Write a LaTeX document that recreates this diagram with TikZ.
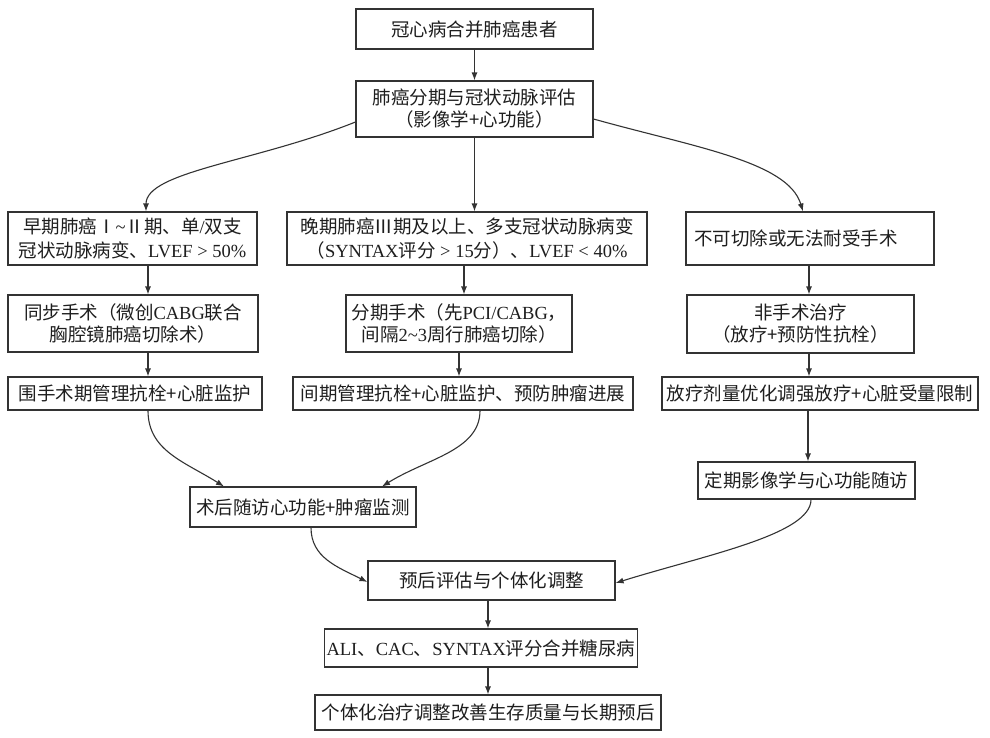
\documentclass[tikz,border=0pt]{standalone}
\usepackage{fontspec}
\setmainfont{Noto Sans CJK SC}
\newfontfamily\en{Liberation Serif}
\usetikzlibrary{arrows.meta}
\definecolor{ln}{HTML}{333333}
\definecolor{tx}{HTML}{1E1E1E}
\begin{document}
\begin{tikzpicture}[x=1pt,y=-1pt,
  box/.style={draw=ln, line width=1.1pt, text=tx, align=center, inner sep=2pt,
    font=\fontsize{18.5}{22}\selectfont},
  arr/.style={draw=ln, line width=1.1pt, -{Latex[length=8pt,width=6pt]}}]
\path[use as bounding box, fill=white] (0,0) rectangle (990,737);

\node[box, minimum width=237pt, minimum height=40pt] (b1) at (474.5,29) {冠心病合并肺癌患者};
\node[box, minimum width=237pt, minimum height=56pt] (b2) at (474.5,109) {肺癌分期与冠状动脉评估\\（影像学+心功能）};

\node[box, minimum width=249pt, minimum height=53pt, font=\fontsize{18.5}{24}\selectfont] (L1) at (132.5,238.5) {早期肺癌Ⅰ{\en\textasciitilde}Ⅱ期、单{\en/}双支\\冠状动脉病变、{\en LVEF > 50\%}};
\node[box, minimum width=360pt, minimum height=53pt, font=\fontsize{18.5}{24}\selectfont] (M1) at (467,238.5) {晚期肺癌Ⅲ期及以上、多支冠状动脉病变\\（{\en SYNTAX}评分{\en\ > 15}分）、{\en LVEF < 40\%}};
\node[box, minimum width=248pt, minimum height=53pt, text width=232pt, align=left, inner xsep=8pt] (R1) at (810,238.5) {不可切除或无法耐受手术};

\node[box, minimum width=250pt, minimum height=57pt] (L2) at (133,323.5) {同步手术（微创{\en CABG}联合\\胸腔镜肺癌切除术）};
\node[box, minimum width=226pt, minimum height=57pt] (M2) at (459,323.5) {分期手术（先{\en PCI/CABG}，\\间隔{\en 2\textasciitilde 3}周行肺癌切除）};
\node[box, minimum width=227pt, minimum height=58pt] (R2) at (800.5,324) {非手术治疗\\（放疗+预防性抗栓）};

\node[box, minimum width=254pt, minimum height=33pt] (L3) at (135,393.5) {围手术期管理抗栓+心脏监护};
\node[box, minimum width=340pt, minimum height=33pt] (M3) at (463,393.5) {间期管理抗栓+心脏监护、预防肿瘤进展};
\node[box, minimum width=316pt, minimum height=33pt] (R3) at (820,393.5) {放疗剂量优化调强放疗+心脏受量限制};

\node[box, minimum width=226pt, minimum height=40pt] (S) at (303,507) {术后随访心功能+肿瘤监测};
\node[box, minimum width=217pt, minimum height=37pt] (D) at (806.5,480.5) {定期影像学与心功能随访};
\node[box, minimum width=247pt, minimum height=39pt] (P) at (491.5,580.5) {预后评估与个体化调整};
\node[box, minimum width=306pt, minimum height=38pt] (A) at (481,648) {{\en ALI}、{\en CAC}、{\en SYNTAX}评分合并糖尿病};
\node[box, minimum width=346pt, minimum height=35pt] (F) at (488,712.5) {个体化治疗调整改善生存质量与长期预后};

% straight arrows
\draw[arr] (b1) -- (b2);
\draw[arr] (b2.south) -- (b2.south |- M1.north);
\draw[arr] ([xshift=15.5pt]L1.south) -- ([xshift=15pt]L2.north);
\draw[arr] ([xshift=15pt]L2.south) -- ([xshift=13pt]L3.north);
\draw[arr] ([xshift=-3pt]M1.south) -- ([xshift=5pt]M2.north);
\draw[arr] (M2.south) -- ([xshift=-4pt]M3.north);
\draw[arr] ([xshift=-1pt]R1.south) -- ([xshift=8.5pt]R2.north);
\draw[arr] ([xshift=8.5pt]R2.south) -- ([xshift=-11pt]R3.north);
\draw[arr] ([xshift=-12pt]R3.south) -- ([xshift=1.5pt]D.north);
\draw[arr] ([xshift=-3.5pt]P.south) -- ([xshift=7pt]A.north);
\draw[arr] ([xshift=7pt]A.south) -- (F.north);

% curved arrows
\draw[arr] ([yshift=-13pt]b2.west) .. controls +(-100,40) and +(0,-40) .. ([xshift=13.5pt]L1.north);
\draw[arr] ([yshift=-10pt]b2.east) .. controls +(100,28) and +(-15,-50) .. ([xshift=-7pt]R1.north);
\draw[arr] ([xshift=13pt]L3.south) .. controls +(0,40) and +(-40,-25) .. ([xshift=-79pt]S.north);
\draw[arr] ([xshift=17pt]M3.south) .. controls +(0,40) and +(45,-28) .. ([xshift=79pt]S.north);
\draw[arr] ([xshift=8pt]S.south) .. controls +(0,30) and +(-30,-15) .. ([yshift=-1.5pt]P.west);
\draw[arr] ([xshift=4.5pt]D.south) .. controls +(0,35) and +(90,-28) .. ([yshift=-2.5pt]P.east);
\end{tikzpicture}
\end{document}
